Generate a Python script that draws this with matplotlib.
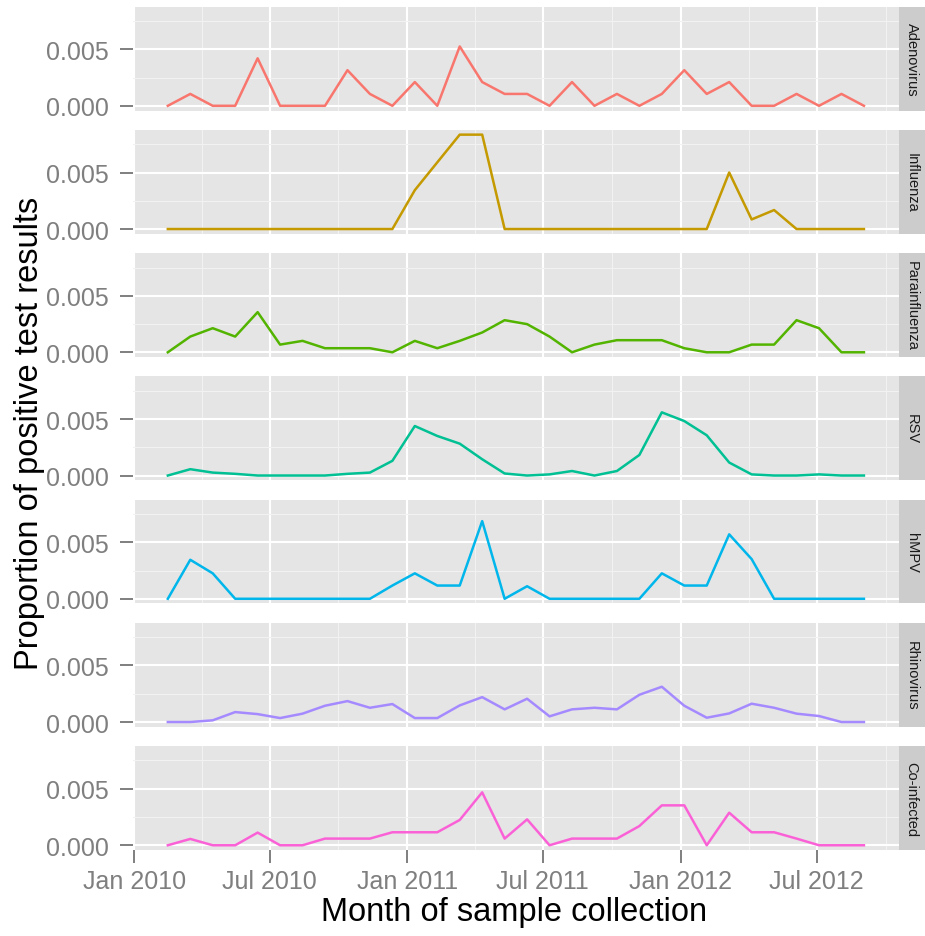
import numpy as np
import pandas as pd
import matplotlib
matplotlib.use("Agg")
import matplotlib.pyplot as plt
import matplotlib.dates as mdates
from matplotlib.patches import Rectangle
from matplotlib.ticker import FixedLocator, FormatStrFormatter

plt.rcParams["font.family"] = ["Liberation Sans", "DejaVu Sans"]

dates = pd.to_datetime([
    "2010-02-15", "2010-03-17", "2010-04-16", "2010-05-16", "2010-06-15",
    "2010-07-15", "2010-08-14", "2010-09-13", "2010-10-13", "2010-11-12",
    "2010-12-12", "2011-01-11", "2011-02-10", "2011-03-12", "2011-04-11",
    "2011-05-11", "2011-06-10", "2011-07-10", "2011-08-09", "2011-09-08",
    "2011-10-08", "2011-11-07", "2011-12-07", "2012-01-06", "2012-02-05",
    "2012-03-06", "2012-04-05", "2012-05-05", "2012-06-04", "2012-07-04",
    "2012-08-03", "2012-09-02",
])

viruses = ["Adenovirus", "Influenza", "Parainfluenza", "RSV", "hMPV",
           "Rhinovirus", "Co-infected"]

adenovirus = [0, 0.00105, 0, 0, 0.0042, 0, 0, 0, 0.00315, 0.00105,
              0, 0.0021, 0, 0.00525, 0.0021, 0.00105, 0.00105, 0, 0.0021, 0,
              0.00105, 0, 0.00105, 0.00315, 0.00105, 0.0021, 0, 0, 0.00105, 0,
              0.00105, 0]
influenza = [0, 0, 0, 0, 0, 0, 0, 0, 0, 0,
             0, 0.00344, 0.0059, 0.00835, 0.00835, 0, 0, 0, 0, 0,
             0, 0, 0, 0, 0, 0.005, 0.00085, 0.00168, 0, 0,
             0, 0]
parainfluenza = [0, 0.00139, 0.00213, 0.00139, 0.00355, 0.00068, 0.00101, 0.00036, 0.00036, 0.00036,
                 0, 0.00101, 0.00036, 0.00101, 0.00175, 0.00284, 0.00249, 0.00139, 0, 0.00068,
                 0.00107, 0.00107, 0.00107, 0.00036, 0, 0, 0.00068, 0.00068, 0.00284, 0.00213,
                 0, 0]
rsv = [0, 0.00056, 0.00026, 0.00015, 0, 0, 0, 0, 0.00015, 0.00026,
       0.0013, 0.00438, 0.0035, 0.00282, 0.00144, 0.00018, 0, 0.0001, 0.0004, 0,
       0.0004, 0.00182, 0.00559, 0.00482, 0.00356, 0.00115, 0.0001, 0, 0, 0.0001,
       0, 0]
hmpv = [0, 0.00345, 0.00225, 0, 0, 0, 0, 0, 0, 0,
        0.00117, 0.00225, 0.00117, 0.00117, 0.00687, 0, 0.00111, 0, 0, 0,
        0, 0, 0.00225, 0.00117, 0.00117, 0.0057, 0.00351, 0, 0, 0,
        0, 0]
rhinovirus = [0, 0, 0.00015, 0.00088, 0.0007, 0.00035, 0.00074, 0.00144, 0.00185, 0.00126,
              0.00159, 0.00035, 0.00035, 0.00147, 0.0022, 0.00112, 0.00206, 0.0005, 0.00112, 0.00126,
              0.00112, 0.00241, 0.00312, 0.00144, 0.00038, 0.00076, 0.00162, 0.00126, 0.00074, 0.00053,
              0, 0]
coinfected = [0, 0.00056, 0, 0, 0.00112, 0, 0, 0.00059, 0.00059, 0.00059,
              0.00115, 0.00115, 0.00115, 0.00224, 0.00468, 0.00059, 0.00229, 0, 0.00059, 0.00059,
              0.00059, 0.0017, 0.00353, 0.00353, 0, 0.00288, 0.00115, 0.00115, 0.00059, 0,
              0, 0]

series = [adenovirus, influenza, parainfluenza, rsv, hmpv, rhinovirus, coinfected]
colors = ["#F8766D", "#C49A00", "#53B400", "#00C094", "#00B6EB", "#A58AFF", "#FB61D7"]

# ggplot-style 5% expansion
span = dates[-1] - dates[0]
xlim = (dates[0] - span * 0.05, dates[-1] + span * 0.05)
ymax = max(max(s) for s in series)
ylim = (-0.05 * ymax, 1.05 * ymax)

fig, axes = plt.subplots(7, 1, figsize=(9.25, 9.37), dpi=100, sharex=True)
fig.subplots_adjust(left=0.1438, right=0.9716, top=0.9918, bottom=0.0918, hspace=0.187)

for ax, name, vals, col in zip(axes, viruses, series, colors):
    ax.set_facecolor("#E5E5E5")
    for s in ax.spines.values():
        s.set_visible(False)
    ax.set_xlim(xlim)
    ax.set_ylim(ylim)
    ax.yaxis.set_major_locator(FixedLocator([0, 0.005]))
    ax.yaxis.set_minor_locator(FixedLocator([0.0025, 0.0075]))
    ax.yaxis.set_major_formatter(FormatStrFormatter("%.3f"))
    ax.xaxis.set_major_locator(mdates.MonthLocator(bymonth=[1, 7]))
    ax.xaxis.set_minor_locator(mdates.MonthLocator(bymonth=[4, 10]))
    ax.xaxis.set_major_formatter(mdates.DateFormatter("%b %Y"))
    ax.grid(which="major", color="white", linewidth=1.5)
    ax.grid(which="minor", color="#F2F2F2", linewidth=0.8)
    ax.set_axisbelow(True)
    ax.tick_params(axis="y", which="major", length=9.5, width=1.4, color="#7F7F7F",
                   labelsize=18, labelcolor="#7F7F7F", pad=8)
    ax.tick_params(axis="x", which="major", length=9.5, width=1.4, color="#7F7F7F",
                   labelsize=18, labelcolor="#7F7F7F", pad=4)
    ax.tick_params(which="minor", length=0)
    ax.plot(dates, vals, color=col, linewidth=1.8)

    strip = Rectangle((1.0, 0.0), 0.034, 1.0, transform=ax.transAxes,
                      facecolor="#CCCCCC", edgecolor="none", clip_on=False)
    ax.add_patch(strip)
    ax.text(1.017, 0.5, name, transform=ax.transAxes, rotation=-90,
            ha="center", va="center", fontsize=10.5, color="#1A1A1A")

for ax in axes[:-1]:
    ax.tick_params(axis="x", which="major", length=0, labelbottom=False)

fig.text(0.032, 0.537, "Proportion of positive test results", rotation=90,
         ha="center", va="center", fontsize=23.5, color="black")
fig.text(0.556, 0.026, "Month of sample collection",
         ha="center", va="center", fontsize=23.5, color="black")

fig.savefig("out.png", dpi=100)
